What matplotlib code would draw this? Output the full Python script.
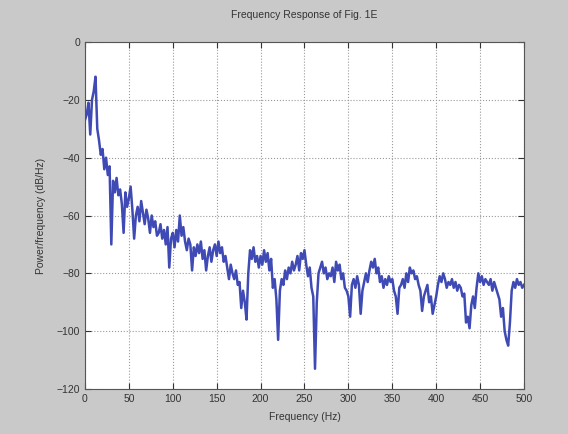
import numpy as np
import matplotlib
matplotlib.use("Agg")
import matplotlib.pyplot as plt

plt.rcParams['font.family'] = ['Liberation Sans', 'DejaVu Sans']

# power spectral density, one value every 2 Hz from 0 to 500 Hz
freq_step = 2
psd_db = [
    -27, -25, -21, -32, -20, -17, -12, -30, -34, -39,
    -37, -44, -40, -46, -43, -70, -48, -52, -47, -53,
    -51, -56, -66, -52, -57, -54, -50, -58, -68, -60,
    -57, -62, -55, -59, -63, -58, -61, -66, -60, -64,
    -62, -67, -66, -63, -68, -65, -70, -64, -78, -68,
    -66, -71, -65, -69, -60, -67, -64, -69, -72, -68,
    -70, -79, -71, -74, -70, -73, -69, -75, -72, -79,
    -74, -71, -76, -72, -70, -74, -69, -73, -71, -76,
    -74, -78, -82, -77, -80, -82, -79, -84, -83, -92,
    -86, -90, -96, -80, -72, -75, -71, -76, -74, -78,
    -74, -77, -72, -76, -73, -79, -75, -85, -82, -89,
    -103, -86, -82, -84, -79, -82, -78, -80, -76, -79,
    -77, -74, -79, -73, -75, -72, -77, -81, -78, -85,
    -88, -113, -90, -80, -78, -76, -80, -78, -82, -80,
    -81, -78, -83, -76, -79, -77, -82, -80, -85, -86,
    -88, -95, -84, -82, -85, -81, -84, -94, -86, -83,
    -80, -83, -79, -76, -78, -75, -80, -78, -83, -81,
    -85, -82, -84, -81, -83, -82, -86, -88, -94, -85,
    -84, -82, -85, -80, -83, -78, -80, -79, -82, -81,
    -84, -86, -93, -88, -86, -84, -90, -88, -94, -91,
    -88, -84, -81, -83, -80, -82, -85, -83, -84, -82,
    -85, -83, -86, -84, -85, -88, -87, -97, -95, -99,
    -91, -88, -92, -85, -80, -83, -81, -84, -82, -83,
    -84, -82, -86, -83, -85, -87, -89, -95, -92, -100,
    -103, -105, -97, -86, -83, -85, -82, -84, -83, -85,
    -84,
]
freqs = np.arange(len(psd_db)) * freq_step

x_ticks = [0, 50, 100, 150, 200, 250, 300, 350, 400, 450, 500]
y_ticks = [-120, -100, -80, -60, -40, -20, 0]

fig = plt.figure(figsize=(5.68, 4.34), dpi=100, facecolor='#c9c9c9')
ax = fig.add_axes([0.1496, 0.1037, 0.7729, 0.7995])
ax.set_facecolor('white')

ax.plot(freqs, psd_db, color='#3f4ab4', lw=1.8)

ax.set_xlim(0, 500)
ax.set_ylim(-120, 0)
ax.set_xticks(x_ticks)
ax.set_yticks(y_ticks)
ax.grid(True, linestyle=':', color='#9a9a9a', lw=0.8)
ax.tick_params(direction='in', top=True, right=True, labelsize=7.5,
               colors='#333333', length=4)
for s in ax.spines.values():
    s.set_color('#555555')

ax.set_title('Frequency Response of Fig. 1E', fontsize=7.5, color='#333333', pad=17)
ax.set_xlabel('Frequency (Hz)', fontsize=7.5, color='#333333', labelpad=6)
ax.set_ylabel('Power/frequency (dB/Hz)', fontsize=7.5, color='#333333', labelpad=8)

fig.savefig('out.png', dpi=100, facecolor=fig.get_facecolor())
